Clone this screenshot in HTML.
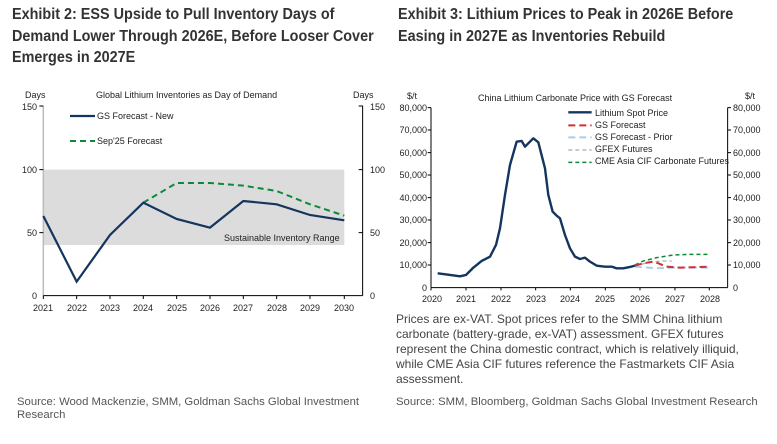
<!DOCTYPE html>
<html><head><meta charset="utf-8"><style>
body{margin:0;width:777px;height:444px;background:#fff;overflow:hidden;position:relative;font-family:"Liberation Sans",sans-serif}
.t{position:absolute;font-family:"Liberation Sans",sans-serif;font-weight:bold;font-size:16px;line-height:21.5px;color:#333;white-space:nowrap;transform:scaleX(0.9);transform-origin:0 0}
.p{position:absolute;font-size:12px;line-height:15px;color:#444}
.s{position:absolute;font-size:11.3px;line-height:13px;color:#555}
svg{position:absolute;left:0;top:0}
svg text{font-family:"Liberation Sans",sans-serif;font-size:9px;fill:#222}
.n{vector-effect:non-scaling-stroke;fill:none}
</style></head><body>
<div class="t" style="left:12px;top:4px">Exhibit 2: ESS Upside to Pull Inventory Days of<br>Demand Lower Through 2026E, Before Looser Cover<br>Emerges in 2027E</div>
<div class="t" style="left:398px;top:4px">Exhibit 3: Lithium Prices to Peak in 2026E Before<br>Easing in 2027E as Inventories Rebuild</div>

<svg width="777" height="444">
<!-- LEFT CHART -->
<g transform="translate(0,85) scale(0.3333)">
<rect x="130" y="254" width="903" height="226" fill="#dcdcdc"/>
<line class="n" x1="130" y1="62" x2="130" y2="632" stroke="#bbb" stroke-width="1.5"/>
<line class="n" x1="1088" y1="62" x2="1088" y2="632" stroke="#000" stroke-width="1"/>
<line class="n" x1="130" y1="632" x2="1088" y2="632" stroke="#000" stroke-width="1"/>
<g stroke="#000" class="n" stroke-width="1">
<path class="n" d="M118 63H130M118 254H130M118 443H130M1076 63H1088M1076 254H1088M1076 443H1088"/>
<path class="n" d="M130 632v10M230 632v10M330 632v10M430 632v10M530 632v10M630 632v10M730 632v10M830 632v10M930 632v10M1033 632v10"/>
</g>
<polyline class="n" stroke="#0b8a3a" stroke-width="2" stroke-dasharray="6,4" points="430,353 530,294 630,294 730,302 830,318 930,358 1033,392"/>
<polyline class="n" stroke="#13355e" stroke-width="2.2" points="130,393 230,590 330,450 430,353 530,402 630,428 730,348 830,358 930,390 1033,406"/>
<line class="n" x1="210" y1="93" x2="285" y2="93" stroke="#13355e" stroke-width="2.2"/>
<line class="n" x1="210" y1="168" x2="285" y2="168" stroke="#0b8a3a" stroke-width="2" stroke-dasharray="6,4"/>
</g>
<text x="25" y="98">Days</text><text x="353" y="98">Days</text>
<text x="96" y="98">Global Lithium Inventories as Day of Demand</text>
<g text-anchor="end"><text x="37" y="110">150</text><text x="37" y="173">100</text><text x="37" y="236">50</text><text x="37" y="299">0</text></g>
<text x="370" y="110">150</text><text x="370" y="173">100</text><text x="370" y="236">50</text><text x="370" y="299">0</text>
<text x="97" y="119">GS Forecast - New</text><text x="97" y="144">Sep'25 Forecast</text>
<text x="224" y="241">Sustainable Inventory Range</text>
<g text-anchor="middle"><text x="43" y="311">2021</text><text x="77" y="311">2022</text><text x="110" y="311">2023</text><text x="143" y="311">2024</text><text x="177" y="311">2025</text><text x="210" y="311">2026</text><text x="243" y="311">2027</text><text x="277" y="311">2028</text><text x="310" y="311">2029</text><text x="344" y="311">2030</text></g>

<!-- RIGHT CHART -->
<g transform="translate(390,85) scale(0.3333)">
<line class="n" x1="123" y1="68" x2="123" y2="608" stroke="#000" stroke-width="1"/>
<line class="n" x1="1013" y1="68" x2="1013" y2="608" stroke="#000" stroke-width="1"/>
<line class="n" x1="123" y1="608" x2="1013" y2="608" stroke="#000" stroke-width="1"/>
<path class="n" stroke="#000" d="M113 68H123M113 135H123M113 203H123M113 270H123M113 338H123M113 405H123M113 473H123M113 540H123M1013 68H1023M1013 135H1023M1013 203H1023M1013 270H1023M1013 338H1023M1013 405H1023M1013 473H1023M1013 540H1023M123 608v8M228 608v8M333 608v8M437 608v8M541 608v8M646 608v8M750 608v8M855 608v8M958 608v8"/>
<polyline class="n" stroke="#aaa" stroke-width="1.2" stroke-dasharray="4,3" points="735,542 790,530 820,528 845,528"/>
<polyline class="n" stroke="#0b8a3a" stroke-width="1.5" stroke-dasharray="4,3" points="735,540 760,528 800,518 850,510 900,508 958,508"/>
<polyline class="n" stroke="#a8cdee" stroke-width="2" stroke-dasharray="7,4" points="735,545 800,550 850,548 958,548"/>
<polyline class="n" stroke="#d03030" stroke-width="2" stroke-dasharray="7,4" points="735,542 760,535 790,530 805,535 830,545 870,548 958,545"/>
<polyline class="n" stroke="#13355e" stroke-width="2.4" stroke-linejoin="round" points="143,565 180,570 210,574 228,570 250,548 275,528 300,515 318,480 330,430 345,330 360,240 380,170 395,168 405,185 415,175 430,160 445,172 465,250 475,330 488,380 500,392 510,400 525,450 540,490 555,515 570,522 585,518 600,530 620,542 645,545 665,545 680,550 700,550 720,546 735,542"/>
<line class="n" x1="535" y1="82" x2="605" y2="82" stroke="#13355e" stroke-width="2.4"/>
<line class="n" x1="535" y1="121" x2="605" y2="121" stroke="#d03030" stroke-width="2" stroke-dasharray="7,4"/>
<line class="n" x1="535" y1="157" x2="605" y2="157" stroke="#a8cdee" stroke-width="2" stroke-dasharray="7,4"/>
<line class="n" x1="535" y1="195" x2="605" y2="195" stroke="#aaa" stroke-width="1.2" stroke-dasharray="4,3"/>
<line class="n" x1="535" y1="232" x2="605" y2="232" stroke="#0b8a3a" stroke-width="1.5" stroke-dasharray="4,3"/>
</g>
<text x="407" y="99">$/t</text><text x="745" y="99">$/t</text>
<text x="478" y="101">China Lithium Carbonate Price with GS Forecast</text>
<g font-size="8.5"><text x="595" y="116">Lithium Spot Price</text><text x="595" y="128">GS Forecast</text><text x="595" y="140">GS Forecast - Prior</text><text x="595" y="152">GFEX Futures</text><text x="595" y="164">CME Asia CIF Carbonate Futures</text></g>
<g text-anchor="end"><text x="427" y="111">80,000</text><text x="427" y="133">70,000</text><text x="427" y="156">60,000</text><text x="427" y="178">50,000</text><text x="427" y="201">40,000</text><text x="427" y="223">30,000</text><text x="427" y="246">20,000</text><text x="427" y="268">10,000</text><text x="427" y="291">0</text></g>
<g><text x="733" y="111">80,000</text><text x="733" y="133">70,000</text><text x="733" y="156">60,000</text><text x="733" y="178">50,000</text><text x="733" y="201">40,000</text><text x="733" y="223">30,000</text><text x="733" y="246">20,000</text><text x="733" y="268">10,000</text><text x="733" y="291">0</text></g>
<g text-anchor="middle"><text x="432" y="302">2020</text><text x="466" y="302">2021</text><text x="501" y="302">2022</text><text x="536" y="302">2023</text><text x="570" y="302">2024</text><text x="605" y="302">2025</text><text x="640" y="302">2026</text><text x="675" y="302">2027</text><text x="710" y="302">2028</text></g>
</svg>
<div class="p" style="left:396px;top:312px;width:368px">Prices are ex-VAT. Spot prices refer to the SMM China lithium carbonate (battery-grade, ex-VAT) assessment. GFEX futures represent the China domestic contract, which is relatively illiquid, while CME Asia CIF futures reference the Fastmarkets CIF Asia assessment.</div>
<div class="s" style="left:396px;top:396px">Source: SMM, Bloomberg, Goldman Sachs Global Investment Research</div>
<div class="s" style="left:17px;top:396px;width:360px">Source: Wood Mackenzie, SMM, Goldman Sachs Global Investment Research</div>
</body></html>
